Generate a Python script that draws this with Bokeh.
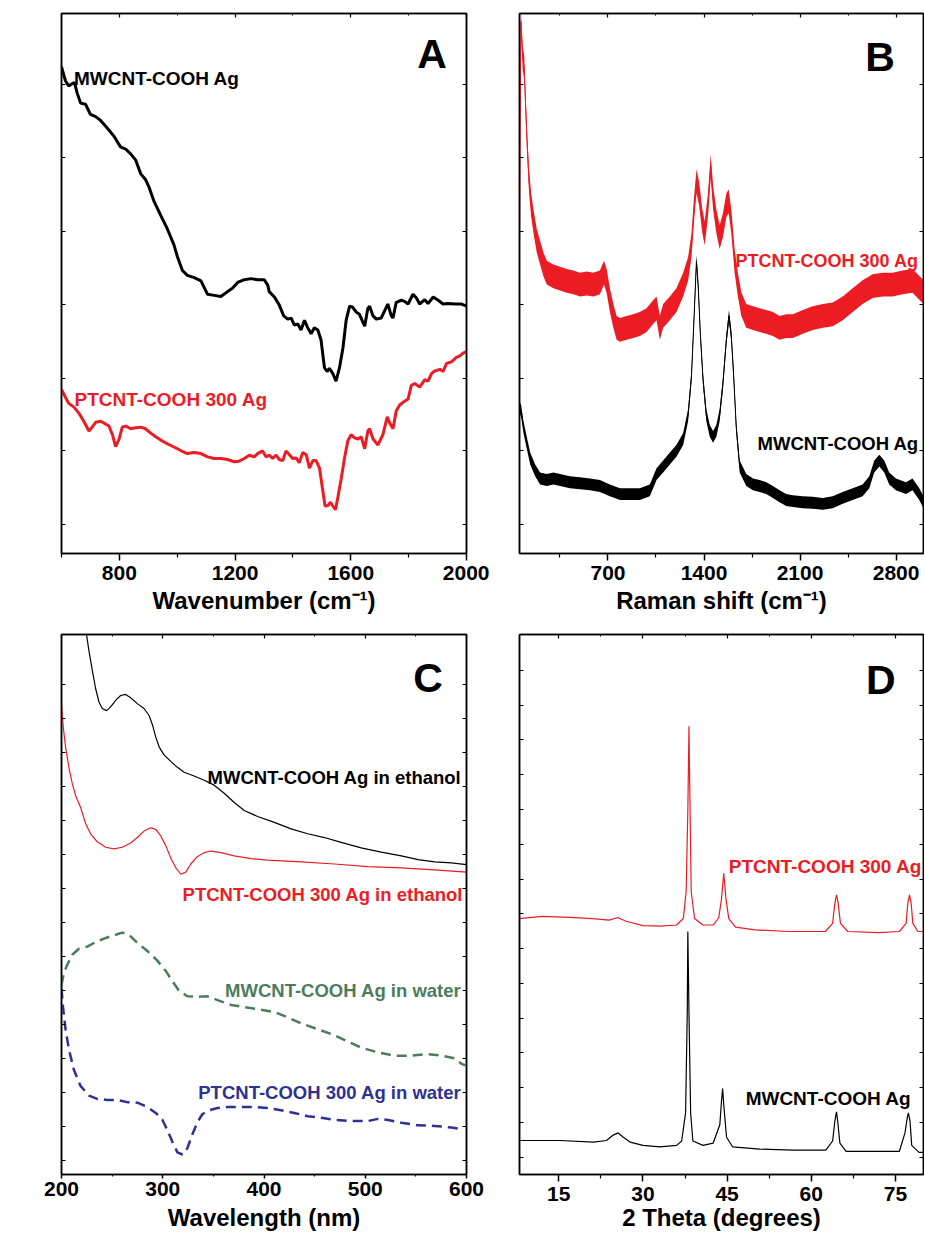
from bokeh.plotting import figure
from bokeh.layouts import column, row
from bokeh.models import Range1d, LinearAxis, FixedTicker, Label
from bokeh.embed import file_html
from bokeh.resources import INLINE

FONT = "Liberation Sans"
RED = "#ec1c24"
BLACK = "#000000"
GREEN = "#4b7d5d"
BLUE = "#2e3192"
FH = 540

# ---------------- Panel A : FTIR (% transmittance, a.u.) ----------------
ftir_mw_x = [600, 614, 625, 637, 645, 654, 666, 683, 700, 718, 735, 758, 781, 804, 822, 839, 856, 874, 891, 903,
             920, 943, 966, 989, 1001, 1018, 1035, 1059, 1082, 1105, 1128, 1151, 1174, 1191, 1209, 1232, 1255, 1278,
             1301, 1313, 1318, 1336, 1353, 1368, 1382, 1394, 1405, 1417, 1428, 1440, 1451, 1463, 1474, 1486, 1497,
             1509, 1518, 1526, 1538, 1549, 1561, 1573, 1584, 1596, 1607, 1619, 1630, 1648, 1659, 1665, 1677, 1688,
             1705, 1728, 1740, 1746, 1757, 1775, 1786, 1798, 1815, 1827, 1838, 1856, 1867, 1885, 1902, 1919, 1936,
             1960, 1983, 2000]
ftir_mw_y = [90.1, 87.5, 86.6, 87.0, 87.2, 85.3, 83.4, 83.2, 81.3, 80.9, 80.2, 78.8, 77.3, 75.3, 74.9, 74.0, 72.9,
             70.3, 69.2, 67.8, 65.2, 62.6, 60.1, 57.1, 54.9, 52.4, 51.5, 51.1, 50.5, 48.0, 47.8, 47.6, 48.5, 49.1,
             50.2, 50.7, 50.9, 50.7, 50.7, 49.7, 48.5, 47.5, 46.0, 44.0, 43.4, 43.6, 42.3, 42.5, 41.4, 43.2, 41.8,
             40.7, 41.8, 41.4, 39.6, 34.4, 33.7, 34.3, 33.3, 31.9, 34.4, 38.1, 43.2, 45.8, 45.6, 44.7, 44.3, 42.1,
             45.4, 45.8, 44.0, 43.4, 43.6, 46.2, 44.0, 43.6, 46.5, 46.9, 46.7, 46.2, 48.0, 47.3, 46.2, 47.0, 46.3,
             47.5, 46.9, 46.2, 46.3, 46.2, 46.2, 45.8]
ftir_pt_x = [600, 614, 625, 643, 660, 677, 695, 706, 718, 735, 752, 764, 776, 787, 799, 810, 822, 839, 856, 874,
             891, 908, 926, 943, 960, 978, 1001, 1018, 1035, 1059, 1082, 1105, 1128, 1151, 1174, 1197, 1214, 1232,
             1249, 1266, 1278, 1295, 1307, 1318, 1330, 1342, 1353, 1365, 1376, 1388, 1399, 1411, 1422, 1434, 1446,
             1457, 1469, 1480, 1492, 1503, 1511, 1521, 1530, 1538, 1547, 1555, 1567, 1578, 1590, 1601, 1613, 1625,
             1636, 1648, 1659, 1665, 1677, 1694, 1711, 1726, 1734, 1746, 1757, 1769, 1786, 1798, 1809, 1821, 1838,
             1856, 1867, 1879, 1890, 1908, 1919, 1931, 1948, 1965, 1977, 1988, 2000]
ftir_pt_y = [30.4, 28.9, 27.8, 27.1, 26.0, 24.5, 22.7, 23.4, 24.3, 24.5, 24.0, 23.6, 22.0, 19.8, 21.2, 23.4, 23.6,
             23.1, 23.3, 23.4, 23.1, 22.3, 21.6, 21.0, 20.5, 20.0, 19.4, 18.9, 18.5, 18.7, 18.5, 17.9, 17.6, 17.6,
             17.4, 17.0, 17.1, 17.6, 18.2, 17.9, 18.5, 19.0, 17.9, 18.2, 17.6, 18.2, 17.4, 17.2, 19.0, 18.3, 17.6,
             17.7, 16.8, 18.7, 18.3, 15.8, 17.2, 17.2, 15.8, 11.7, 8.8, 8.9, 9.5, 8.8, 8.1, 10.3, 13.9, 17.6, 20.9,
             22.0, 21.4, 21.2, 21.6, 19.4, 22.7, 23.1, 21.2, 20.1, 22.0, 25.3, 24.2, 23.1, 26.4, 27.5, 28.2, 28.6,
             31.1, 31.5, 30.8, 32.2, 31.9, 33.3, 33.8, 34.1, 33.7, 35.2, 35.5, 36.3, 36.6, 37.1, 37.4]

# ---------------- Panel B : Raman (intensity, a.u.) ----------------
raman_pt_x = [55, 65, 79, 89, 101, 113, 125, 140, 157, 181, 205, 230, 254, 302, 351, 399, 448, 496, 545, 593,
              641, 671, 690, 714, 739, 763, 787, 836, 884, 932, 981, 1029, 1054, 1078, 1102, 1151, 1199, 1248, 1284,
              1309, 1325, 1345, 1364, 1388, 1405, 1429, 1449, 1466, 1490, 1514, 1538, 1563, 1580, 1599, 1623, 1647,
              1672, 1708, 1757, 1805, 1854, 1902, 1951, 1999, 2048, 2120, 2193, 2266, 2338, 2411, 2484, 2556, 2629,
              2702, 2775, 2847, 2920, 3000]
raman_pt_y = [57.1, 98.5, 91.6, 90.1, 82.1, 74.7, 68.9, 64.5, 61.5, 57.9, 55.7, 53.5, 52.0, 51.3, 50.9, 50.5, 50.2,
              49.8, 50.0, 49.8, 50.2, 52.0, 50.5, 46.9, 44.0, 41.8, 41.4, 41.8, 42.1, 42.5, 43.2, 44.7, 45.4, 41.8,
              44.0, 45.4, 46.9, 49.8, 52.7, 57.1, 63.0, 68.9, 66.7, 61.5, 59.3, 64.5, 71.8, 65.9, 61.5, 58.6, 60.8,
              64.5, 65.2, 61.5, 54.2, 49.8, 46.2, 44.0, 43.6, 43.2, 42.9, 42.5, 41.8, 42.1, 42.1, 42.9, 43.6, 44.0,
              44.3, 45.4, 46.9, 48.4, 49.5, 49.8, 49.8, 50.2, 50.5, 48.4]
raman_mw_x = [55, 67, 84, 108, 133, 169, 205, 254, 302, 351, 423, 496, 569, 641, 714, 787, 860, 932, 1005, 1054,
              1102, 1151, 1199, 1248, 1284, 1309, 1328, 1345, 1357, 1374, 1393, 1417, 1442, 1466, 1490, 1514, 1538,
              1563, 1582, 1599, 1616, 1635, 1660, 1708, 1757, 1805, 1854, 1902, 1951, 1999, 2048, 2120, 2193, 2266,
              2338, 2411, 2484, 2556, 2605, 2641, 2678, 2714, 2750, 2799, 2872, 2920, 2969, 3000]
raman_mw_y = [27.1, 26.4, 23.4, 20.5, 17.6, 15.4, 13.9, 13.6, 13.9, 13.6, 13.2, 13.0, 12.8, 12.5, 11.7, 11.0, 11.0,
              11.0, 11.7, 14.7, 16.1, 17.6, 19.0, 21.2, 25.6, 33.0, 44.0, 54.2, 49.8, 40.3, 32.2, 25.6, 22.7, 21.6,
              22.7, 25.6, 31.5, 39.6, 44.0, 40.3, 33.0, 23.4, 16.1, 13.6, 12.8, 12.5, 12.1, 11.4, 10.6, 9.9, 9.7,
              9.5, 9.4, 9.2, 9.5, 10.3, 11.0, 11.7, 13.2, 16.1, 17.2, 16.1, 13.9, 12.8, 12.1, 12.8, 11.0, 9.5]
raman_pt_noise = 2.2   # half-width of the noise band
raman_mw_noise = 1.1

# ---------------- Panel C : UV-vis (absorbance, a.u.) ----------------
uv_mw_eth_x = [224.8, 227, 230.4, 233.7, 237, 240.3, 244.6, 248.5, 253.5, 258.4, 263.4, 268.3, 274.9, 281.5, 286.5,
               289.8, 293.1, 296.4, 301.3, 307.9, 314.5, 321.1, 331, 340.9, 350.8, 360.7, 370.6, 380.5, 393.7,
               410.2, 426.7, 443.2, 459.7, 476.2, 496, 515.8, 535.6, 552.1, 568.6, 585.1, 600]
uv_mw_eth_y = [99.9, 97.1, 93.4, 90.0, 87.5, 86.3, 85.9, 86.6, 87.8, 88.7, 88.9, 88.3, 87.2, 86.3, 85.0, 83.3, 81.0,
               79.2, 77.7, 76.5, 75.4, 74.5, 73.8, 73.0, 72.1, 70.6, 68.9, 67.4, 66.3, 65.2, 64.0, 63.1, 62.4, 61.5,
               60.5, 59.7, 59.0, 58.3, 57.9, 57.7, 57.4]
uv_pt_eth_x = [200, 201.7, 204, 207.3, 210.6, 213.9, 218.8, 223.8, 228.7, 235.3, 243.6, 251.8, 260, 268.3, 274.9,
               281.5, 288.1, 293.1, 298, 303, 307.9, 312.9, 317.8, 322.8, 327.7, 334.3, 340.9, 347.5, 357.4, 370.6,
               387.1, 403.6, 436.6, 469.6, 502.6, 535.6, 568.6, 600]
uv_pt_eth_y = [87.0, 82.9, 79.2, 75.4, 72.4, 70.2, 68.0, 65.0, 63.1, 61.6, 60.6, 60.3, 60.6, 61.4, 62.4, 63.6, 64.2,
               63.9, 62.7, 60.9, 58.6, 56.8, 55.6, 56.0, 57.5, 58.9, 59.6, 59.9, 59.6, 59.0, 58.5, 58.2, 57.9, 57.5,
               57.0, 56.8, 56.4, 56.0]
uv_mw_wat_x = [200, 202.3, 205.6, 210.6, 217.2, 225.4, 235.3, 245.2, 253.5, 260, 266.7, 274.9, 284.8, 294.7, 303,
               309.6, 316.2, 324.4, 334.3, 344.2, 354.1, 367.3, 380.5, 393.7, 410.2, 423.4, 436.6, 453.1, 469.6,
               482.8, 496, 512.5, 529, 545.5, 562, 575.2, 588.4, 595, 599]
uv_mw_wat_y = [35.1, 37.3, 38.8, 40.7, 41.8, 42.2, 43.2, 43.9, 44.4, 44.8, 44.4, 42.9, 41.4, 39.6, 37.7, 35.8, 34.0,
               33.0, 32.9, 33.0, 32.3, 31.4, 31.0, 30.6, 30.1, 29.1, 28.0, 26.9, 25.8, 24.6, 23.5, 22.6, 22.0, 22.0,
               22.3, 22.0, 21.5, 20.5, 20.2]
uv_pt_wat_x = [200, 201.7, 204, 207.3, 212.2, 218.8, 227.1, 235.3, 245.2, 255.1, 265, 274.9, 284.8, 293.1, 299.7,
               304.6, 309.6, 314.5, 319.5, 324.4, 329.4, 334.3, 339.3, 345.9, 354.1, 364, 377.2, 390.4, 403.6, 416.8,
               430, 443.2, 456.4, 469.6, 486.1, 502.6, 512.5, 522.4, 535.6, 552.1, 568.6, 585.1, 596.7]
uv_pt_wat_y = [34.4, 30.6, 26.9, 23.2, 19.4, 16.4, 14.6, 14.0, 13.8, 13.8, 13.4, 13.3, 12.5, 11.4, 10.1, 8.2, 6.0,
               4.1, 3.7, 4.9, 7.5, 9.7, 11.2, 11.9, 12.3, 12.5, 12.5, 12.5, 12.3, 11.9, 11.4, 10.8, 10.5, 10.1, 9.9,
               9.9, 10.3, 10.1, 9.6, 9.1, 9.0, 8.7, 8.4]

# ---------------- Panel D : XRD (intensity, a.u.) ----------------
xrd_pt_x = [8, 12, 17, 21, 24, 25.5, 27, 30, 33, 36, 37.2, 37.7, 38.0, 38.2, 38.4, 38.6, 39.2, 40.7, 42.5, 43.5,
            44.0, 44.4, 44.8, 45.3, 46.5, 50, 56, 62.5, 63.8, 64.2, 64.5, 64.8, 65.2, 66.5, 72, 75.7, 76.9, 77.2,
            77.5, 77.8, 78.1, 79, 80]
xrd_pt_y = [47.4, 47.8, 47.6, 47.4, 47.1, 47.6, 46.9, 46.1, 46.0, 46.2, 47.4, 52.4, 67.3, 83.0, 67.3, 52.4, 47.4,
            46.2, 46.2, 47.5, 51.0, 55.8, 51.0, 47.4, 45.8, 45.3, 45.0, 45.0, 46.5, 50.2, 51.8, 50.2, 46.5, 45.0,
            44.8, 45.0, 46.5, 50.2, 51.8, 50.2, 46.5, 45.0, 45.0]
xrd_mw_x = [8, 15.2, 21.2, 23.5, 24.7, 25.6, 26.5, 27.7, 30, 33, 36, 36.9, 37.6, 37.9, 38.0, 38.2, 38.5, 38.9, 40.7,
            42.5, 43.7, 44.0, 44.2, 44.4, 44.9, 46, 50.8, 56.7, 62.6, 63.8, 64.2, 64.5, 64.7, 65.1, 66.2, 71.5,
            75.7, 76.7, 77.1, 77.3, 77.6, 77.9, 79.2, 80]
xrd_mw_y = [6.3, 6.3, 6.0, 6.3, 7.3, 7.7, 6.9, 6.0, 5.4, 5.1, 5.4, 6.2, 11.4, 30.1, 45.0, 30.1, 11.4, 6.2, 5.4, 5.8,
            9.2, 13.6, 15.9, 12.9, 6.9, 5.1, 4.7, 4.5, 4.5, 6.2, 9.9, 11.6, 9.9, 5.8, 4.3, 4.3, 4.3, 7.7, 10.5,
            11.4, 9.9, 5.4, 4.1, 4.1]

# tick positions
A_xmaj, A_xmin = [800, 1200, 1600, 2000], [600, 1000, 1400, 1800]
B_xmaj, B_xmin = [700, 1400, 2100, 2800], [350, 1050, 1750, 2450]
C_xmaj, C_xmin = [200, 300, 400, 500, 600], [250, 350, 450, 550]
D_xmaj, D_xmin = [15, 30, 45, 60, 75], [22.5, 37.5, 52.5, 67.5]
A_yt = [5.4, 19.0, 32.5, 46.1, 59.7, 73.3, 86.9]
C_yt = [2.6 + 6.3 * k for k in range(15)]
D_yt = [3.2 + 6.44 * k for k in range(15)]


def hide_labels(ax):
    ax.major_label_text_font_size = "0px"
    ax.major_label_text_color = None
    ax.major_label_standoff = 0


def panel(xr, xmaj, xmin, ytk, xlabel, fw, left, right, top, bottom, tick_out, lab_standoff, ax_standoff):
    p = figure(width=left + fw + right, height=top + FH + bottom,
               x_range=Range1d(*xr), y_range=Range1d(0, 100),
               output_backend="svg", toolbar_location=None, title=None,
               min_border_left=left, min_border_right=right,
               min_border_top=top, min_border_bottom=bottom)
    p.xgrid.visible = False
    p.ygrid.visible = False
    p.background_fill_color = "white"
    p.border_fill_color = "white"
    p.outline_line_color = "black"
    p.outline_line_width = 1.5
    xa = p.xaxis[0]
    xa.ticker = FixedTicker(ticks=xmaj, minor_ticks=xmin)
    xa.axis_label = xlabel
    xa.axis_label_text_font = FONT
    xa.axis_label_text_font_style = "bold"
    xa.axis_label_text_font_size = "24px"
    xa.axis_label_text_color = "black"
    xa.axis_label_standoff = ax_standoff
    xa.major_label_text_font = FONT
    xa.major_label_text_font_style = "bold"
    xa.major_label_text_font_size = "21px"
    xa.major_label_text_color = "black"
    xa.major_label_standoff = lab_standoff
    xa.major_tick_out = tick_out
    xa.major_tick_in = 0
    xa.minor_tick_out = max(tick_out - 3, 2)
    xa.minor_tick_in = 0
    xa.axis_line_width = 1.5
    xa.major_tick_line_width = 1.5
    xa.minor_tick_line_width = 1.2
    ya = p.yaxis[0]
    ya.ticker = FixedTicker(ticks=ytk)
    hide_labels(ya)
    ya.major_tick_in = 4
    ya.major_tick_out = 0
    ya.minor_tick_in = 0
    ya.minor_tick_out = 0
    ya.axis_line_width = 1.5
    ya.major_tick_line_width = 1.2
    top_ax = LinearAxis(ticker=FixedTicker(ticks=xmaj, minor_ticks=xmin),
                        major_tick_in=4, major_tick_out=0, minor_tick_in=2, minor_tick_out=0,
                        axis_line_width=1.5, major_tick_line_width=1.2)
    hide_labels(top_ax)
    p.add_layout(top_ax, "above")
    right_ax = LinearAxis(ticker=FixedTicker(ticks=ytk),
                          major_tick_in=4, major_tick_out=0, minor_tick_in=0, minor_tick_out=0,
                          axis_line_width=1.5, major_tick_line_width=1.2)
    hide_labels(right_ax)
    p.add_layout(right_ax, "right")
    return p


def txt(p, x, y, text, color, size="19px", align="left", angle=0):
    p.add_layout(Label(x=x, y=y, text=text, text_font=FONT, text_font_style="bold",
                       text_font_size=size, text_color=color, text_align=align,
                       text_baseline="middle", angle=angle, angle_units="deg"))


# ---- A ----
pA = panel((600, 2000), A_xmaj, A_xmin, A_yt, "Wavenumber (cm\u207b\u00b9)", 405, 61, 23, 13, 70, 7, 5, 4)
pA.line(ftir_mw_x, ftir_mw_y, line_color=BLACK, line_width=3)
pA.line(ftir_pt_x, ftir_pt_y, line_color=RED, line_width=3)
txt(pA, 643, 87.9, "MWCNT-COOH Ag", BLACK)
txt(pA, 645, 28.6, "PTCNT-COOH 300 Ag", RED)
txt(pA, 1881, 92.5, "A", BLACK, size="41px", align="center")
txt(pA, 484, 46.8, "% Transmittance(a.u.)", BLACK, size="24px", align="center", angle=90)

# ---- B ----
pB = panel((55, 3000), B_xmaj, B_xmin, A_yt, "Raman shift (cm\u207b\u00b9)", 404, 30, 1, 13, 70, 7, 5, 4)
pt_lo = [v - raman_pt_noise for v in raman_pt_y]
pt_hi = [v + raman_pt_noise for v in raman_pt_y]
mw_lo = [v - raman_mw_noise for v in raman_mw_y]
mw_hi = [v + raman_mw_noise for v in raman_mw_y]
pB.varea(x=raman_pt_x, y1=pt_lo, y2=pt_hi, fill_color=RED)
pB.line(raman_pt_x, raman_pt_y, line_color=RED, line_width=1)
pB.varea(x=raman_mw_x, y1=mw_lo, y2=mw_hi, fill_color=BLACK)
pB.line(raman_mw_x, raman_mw_y, line_color=BLACK, line_width=1)
txt(pB, 1630, 54.1, "PTCNT-COOH 300 Ag", RED, size="18px")
txt(pB, 1790, 20.4, "MWCNT-COOH Ag", BLACK, size="18.5px")
txt(pB, 2683, 91.9, "B", BLACK, size="41px", align="center")
txt(pB, -62, 46.8, "Intensity(a.u.)", BLACK, size="24px", align="center", angle=90)

# ---- C ----
pC = panel((200, 600), C_xmaj, C_xmin, C_yt, "Wavelength (nm)", 405, 61, 23, 11, 66, 4, 3, 5)
pC.line(uv_mw_eth_x, uv_mw_eth_y, line_color=BLACK, line_width=1.2)
pC.line(uv_pt_eth_x, uv_pt_eth_y, line_color=RED, line_width=1.2)
pC.line(uv_mw_wat_x, uv_mw_wat_y, line_color=GREEN, line_width=2.5, line_dash="10 6")
pC.line(uv_pt_wat_x, uv_pt_wat_y, line_color=BLUE, line_width=2.5, line_dash="10 6")
txt(pC, 595, 73.6, "MWCNT-COOH Ag in ethanol", BLACK, size="18.5px", align="right")
txt(pC, 596.7, 51.9, "PTCNT-COOH 300 Ag in ethanol", RED, size="18.5px", align="right")
txt(pC, 595, 34.0, "MWCNT-COOH Ag in water", GREEN, size="18.5px", align="right")
txt(pC, 595, 15.1, "PTCNT-COOH 300 Ag in water", BLUE, size="18.5px", align="right")
txt(pC, 562, 91.9, "C", BLACK, size="41px", align="center")
txt(pC, 166.4, 41.6, "Absorbance(a.u.)", BLACK, size="24px", align="center", angle=90)

# ---- D ----
pD = panel((8, 80), D_xmaj, D_xmin, D_yt, "2 Theta (degrees)", 404, 30, 1, 11, 66, 7, 5, 0)
pD.line(xrd_pt_x, xrd_pt_y, line_color=RED, line_width=1.2)
pD.line(xrd_mw_x, xrd_mw_y, line_color=BLACK, line_width=1.2)
txt(pD, 45.3, 57.1, "PTCNT-COOH 300 Ag", RED)
txt(pD, 48.3, 14.0, "MWCNT-COOH Ag", BLACK)
txt(pD, 72.4, 91.6, "D", BLACK, size="41px", align="center")
txt(pD, 5.15, 46.5, "Intensity(a.u.)", BLACK, size="24px", align="center", angle=90)

layout = column(row(pA, pB), row(pC, pD))
open("out.html", "w").write(file_html(layout, INLINE))
